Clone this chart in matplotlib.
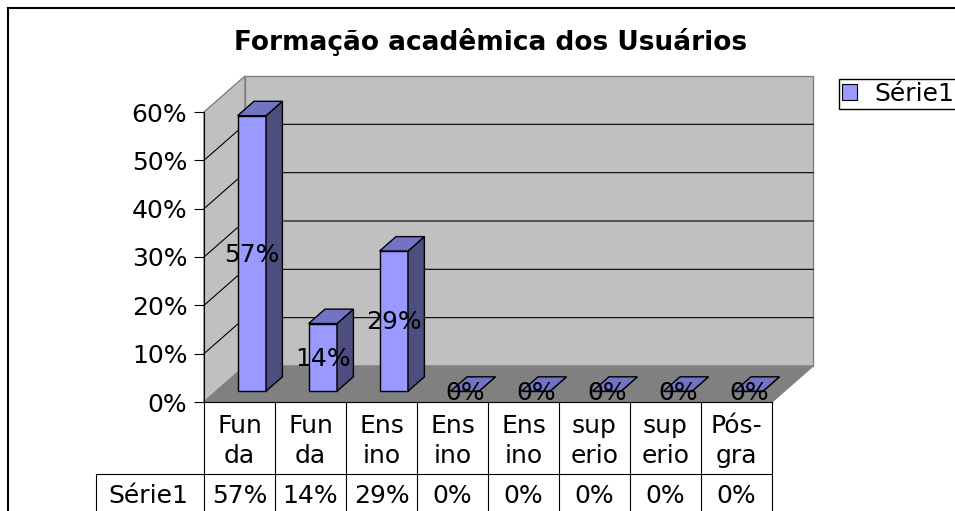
import matplotlib
matplotlib.use("Agg")
import matplotlib.pyplot as plt
from matplotlib.patches import Rectangle
from matplotlib.ticker import PercentFormatter

# data
categories = ["Fun\nda", "Fun\nda", "Ens\nino", "Ens\nino", "Ens\nino",
              "sup\nerio", "sup\nerio", "Pós-\ngra"]
values = [57, 14, 29, 0, 0, 0, 0, 0]
series_name = "Série1"
yticks = [0, 10, 20, 30, 40, 50, 60]
title = "Formação acadêmica dos Usuários"

W, H = 955, 511
FS = 18

fig = plt.figure(figsize=(W / 100, H / 100), dpi=100)
ax = fig.add_axes([204 / W, 1 - 402 / H, 568 / W, 290 / H])
n = len(categories)
ymax = yticks[-1]
ax.set_xlim(0, n)
ax.set_ylim(0, ymax)
ax.patch.set_visible(False)

# depth of the fake 3d box, in data units
px_x = 568 / n
px_y = 290 / ymax
DX = 41 / px_x
DY = 36 / px_y


def sh(x, y, d):
    return x + d * DX, y + d * DY


# walls and floor
ax.fill([0, 0, DX, DX], [0, ymax, ymax + DY, DY], fc="#c0c0c0", ec="#808080",
        lw=1, clip_on=False, zorder=0)
ax.fill([DX, DX, n + DX, n + DX], [DY, ymax + DY, ymax + DY, DY], fc="#c0c0c0",
        ec="#808080", lw=1, clip_on=False, zorder=0)
ax.fill([0, n, n + DX, DX], [0, 0, DY, DY], fc="#808080", ec="#808080",
        lw=1, clip_on=False, zorder=0.5)
for t in yticks[1:-1]:
    ax.plot([0, DX, n + DX], [t, t + DY, t + DY], color="black", lw=0.8,
            clip_on=False, zorder=0.6)

# bars
d0, d1 = 0.3, 0.7
bw = 0.4
for i, v in enumerate(values):
    xl = i + 0.5 - bw / 2
    xr = i + 0.5 + bw / 2
    front = [sh(xl, 0, d0), sh(xr, 0, d0), sh(xr, v, d0), sh(xl, v, d0)]
    side = [sh(xr, 0, d0), sh(xr, 0, d1), sh(xr, v, d1), sh(xr, v, d0)]
    top = [sh(xl, v, d0), sh(xr, v, d0), sh(xr, v, d1), sh(xl, v, d1)]
    for poly, col in [(front, "#9999ff"), (side, "#4d4d80"), (top, "#7373c6")]:
        xs, ys = zip(*poly)
        ax.fill(xs, ys, fc=col, ec="black", lw=1, clip_on=False, zorder=2 + i * 0.01)
    lx, ly = sh(i + 0.5, v / 2, d0)
    ax.text(lx, ly - 8.3 / px_y, f"{v}%", ha="center", va="baseline",
            fontsize=FS, zorder=5, clip_on=False)

# axis
ax.set_yticks(yticks)
ax.yaxis.set_major_formatter(PercentFormatter(decimals=0))
ax.set_xticks([])
for s in ["top", "right", "bottom"]:
    ax.spines[s].set_visible(False)
ax.spines["left"].set_color("black")
ax.spines["left"].set_linewidth(0.8)
ax.tick_params(axis="y", length=7, width=0.8, pad=5, labelsize=FS)

# data table under the chart
row1_bot = -(474 - 402) / px_y
row2_bot = -(530 - 402) / px_y
left_x = -(204 - 96) / px_x
ax.plot([0, n], [0, 0], color="black", lw=0.8, clip_on=False, zorder=3)
ax.plot([left_x, n], [row1_bot, row1_bot], color="black", lw=0.8, clip_on=False)
ax.plot([left_x, left_x], [row1_bot, row2_bot], color="black", lw=0.8, clip_on=False)
for k in range(n + 1):
    ax.plot([k, k], [0, row2_bot], color="black", lw=0.8, clip_on=False)
for i, (c, v) in enumerate(zip(categories, values)):
    l1, l2 = c.split("\n")
    ax.text(i + 0.5, -(433 - 402) / px_y, l1, ha="center", va="baseline",
            fontsize=FS, clip_on=False)
    ax.text(i + 0.5, -(463 - 402) / px_y, l2, ha="center", va="baseline",
            fontsize=FS, clip_on=False)
    ax.text(i + 0.5, -(503 - 402) / px_y, f"{v}%", ha="center", va="baseline",
            fontsize=FS, clip_on=False)
ax.text(-(204 - 148) / px_x, -(503 - 402) / px_y, series_name, ha="center",
        va="baseline", fontsize=FS, clip_on=False)

# title, legend, outer border
fig.text(491 / W, 1 - 50 / H, title, ha="center", va="baseline",
         fontsize=19, fontweight="bold")
handle = Rectangle((0, 0), 1, 1, fc="#9999ff", ec="black", lw=0.8)
fig.legend([handle], [series_name], loc="upper left",
           bbox_to_anchor=(839 / W, 1 - 79 / H), frameon=True, fancybox=False,
           edgecolor="black", framealpha=1, borderpad=0.12, handlelength=0.6,
           handleheight=0.6, handletextpad=0.7, fontsize=18, borderaxespad=0)
fig.add_artist(Rectangle((8 / W, -0.1), 2, 1.1 - 8 / H, transform=fig.transFigure,
                         fill=False, ec="black", lw=1.5))

fig.savefig("out.png", dpi=100)
